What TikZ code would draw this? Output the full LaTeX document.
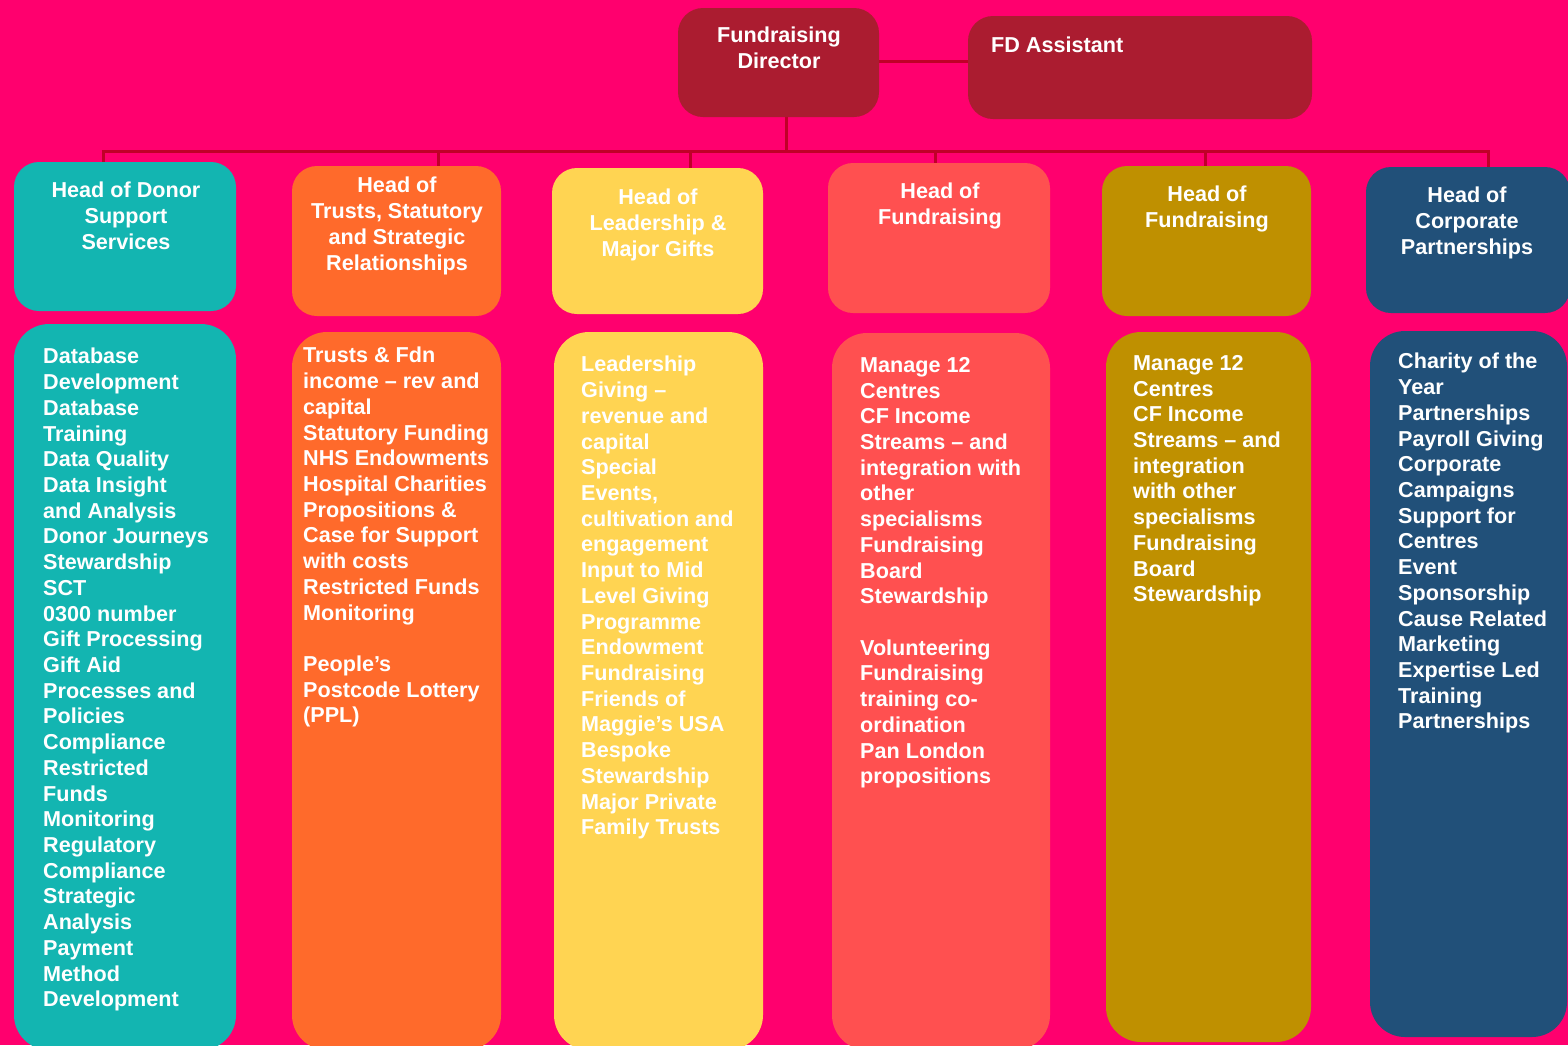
\documentclass[tikz,border=0pt]{standalone}
\usepackage{fontspec}
\setmainfont{Liberation Sans}
\definecolor{bgpink}{HTML}{FF006E}
\definecolor{dirred}{HTML}{AB1C30}
\definecolor{lnred}{HTML}{C00028}
\definecolor{cteal}{HTML}{13B5B1}
\definecolor{corange}{HTML}{FF6A2B}
\definecolor{cyellow}{HTML}{FFD452}
\definecolor{ccoral}{HTML}{FF5050}
\definecolor{cgold}{HTML}{BF9000}
\definecolor{cnavy}{HTML}{215079}
\newcommand\txfont{\fontsize{21.6}{25.72}\selectfont\bfseries}
\tikzset{
  headbox/.style={rounded corners=25pt, inner sep=0pt, draw=none},
  listbox/.style={rounded corners=35pt, inner sep=0pt, draw=none},
  toptext/.style={anchor=north, inner sep=0pt, align=center, text=white, font=\txfont, execute at begin node=\strut},
  listtext/.style={anchor=north west, inner sep=0pt, align=left, text=white, font=\txfont, execute at begin node=\strut},
  link/.style={draw=lnred, line width=3pt}
}
\begin{document}
\begin{tikzpicture}[x=1pt,y=-1pt]
\fill[bgpink] (0,0) rectangle (1568,1045);
\useasboundingbox (0,0) rectangle (1568,1045);

% top level
\node[headbox, fill=dirred, minimum width=201pt, minimum height=109pt] (dir) at (778.5,62.5) {};
\node[headbox, fill=dirred, minimum width=344pt, minimum height=103pt] (fda) at (1140,67.5) {};
\node[toptext] (dirt) at (779,27) {Fundraising\\Director};
\node[listtext] (fdat) at (991,34) {FD Assistant};

% heads
\node[headbox, fill=cteal,   minimum width=222pt, minimum height=149pt] (h1) at (125,236.5) {};
\node[headbox, fill=corange, minimum width=209pt, minimum height=150pt] (h2) at (396.5,241) {};
\node[headbox, fill=cyellow, minimum width=211pt, minimum height=146pt] (h3) at (657.5,241) {};
\node[headbox, fill=ccoral,  minimum width=222pt, minimum height=150pt] (h4) at (939,238) {};
\node[headbox, fill=cgold,   minimum width=209pt, minimum height=150pt] (h5) at (1206.5,241) {};
\node[headbox, fill=cnavy,   minimum width=204pt, minimum height=146pt] (h6) at (1468,240) {};

\node[toptext] (h1t) at (126,182) {Head of Donor\\Support\\Services};
\node[toptext] (h2t) at (397,177) {Head of\\Trusts, Statutory\\and Strategic\\Relationships};
\node[toptext] (h3t) at (658,189) {Head of\\Leadership \&\\Major Gifts};
\node[toptext] (h4t) at (940,183) {Head of\\Fundraising};
\node[toptext] (h5t) at (1207,186) {Head of\\Fundraising};
\node[toptext] (h6t) at (1467,187) {Head of\\Corporate\\Partnerships};

% lists
\node[listbox, fill=cteal,   minimum width=222pt, minimum height=726pt] (b1) at (125,687) {};
\node[listbox, fill=corange, minimum width=209pt, minimum height=718pt] (b2) at (396.5,691) {};
\node[listbox, fill=cyellow, minimum width=209pt, minimum height=718pt] (b3) at (658.5,691) {};
\node[listbox, fill=ccoral,  minimum width=218pt, minimum height=717pt] (b4) at (941,691.5) {};
\node[listbox, fill=cgold,   minimum width=205pt, minimum height=710pt] (b5) at (1208.5,687) {};
\node[listbox, fill=cnavy,   minimum width=197pt, minimum height=706pt] (b6) at (1468.5,684) {};

\node[listtext] (b1t) at (43,348) {Database\\Development\\Database\\Training\\Data Quality\\Data Insight\\and Analysis\\Donor Journeys\\Stewardship\\SCT\\0300 number\\Gift Processing\\Gift Aid\\Processes and\\Policies\\Compliance\\Restricted\\Funds\\Monitoring\\Regulatory\\Compliance\\Strategic\\Analysis\\Payment\\Method\\Development};
\node[listtext] (b2t) at (303,347) {Trusts \& Fdn\\income – rev and\\capital\\Statutory Funding\\NHS Endowments\\Hospital Charities\\Propositions \&\\Case for Support\\with costs\\Restricted Funds\\Monitoring\\\mbox{}\\People’s\\Postcode Lottery\\(PPL)};
\node[listtext] (b3t) at (581,356) {Leadership\\Giving –\\revenue and\\capital\\Special\\Events,\\cultivation and\\engagement\\Input to Mid\\Level Giving\\Programme\\Endowment\\Fundraising\\Friends of\\Maggie’s USA\\Bespoke\\Stewardship\\Major Private\\Family Trusts};
\node[listtext] (b4t) at (860,357) {Manage 12\\Centres\\CF Income\\Streams – and\\integration with\\other\\specialisms\\Fundraising\\Board\\Stewardship\\\mbox{}\\Volunteering\\Fundraising\\training co-\\ordination\\Pan London\\propositions};
\node[listtext] (b5t) at (1133,355) {Manage 12\\Centres\\CF Income\\Streams – and\\integration\\with other\\specialisms\\Fundraising\\Board\\Stewardship};
\node[listtext] (b6t) at (1398,353) {Charity of the\\Year\\Partnerships\\Payroll Giving\\Corporate\\Campaigns\\Support for\\Centres\\Event\\Sponsorship\\Cause Related\\Marketing\\Expertise Led\\Training\\Partnerships};

% connectors
\coordinate (busc) at (786,151);
\coordinate (bus1) at (103,151);
\coordinate (bus2) at (438,151);
\coordinate (bus3) at (690,151);
\coordinate (bus4) at (935,151);
\coordinate (bus5) at (1205,151);
\coordinate (bus6) at (1488,151);
\draw[link] (dir.east |- 0,61) -- (fda.west |- 0,61);
\draw[link] (dir.south -| busc) -- (busc);
\draw[link] ([xshift=-1.5pt]bus1) -- ([xshift=1.5pt]bus6);
\draw[link] (bus1) -- (bus1 |- h1.north);
\draw[link] (bus2) -- (bus2 |- h2.north);
\draw[link] (bus3) -- (bus3 |- h3.north);
\draw[link] (bus4) -- (bus4 |- h4.north);
\draw[link] (bus5) -- (bus5 |- h5.north);
\draw[link] (bus6) -- (bus6 |- h6.north);
\end{tikzpicture}
\end{document}
